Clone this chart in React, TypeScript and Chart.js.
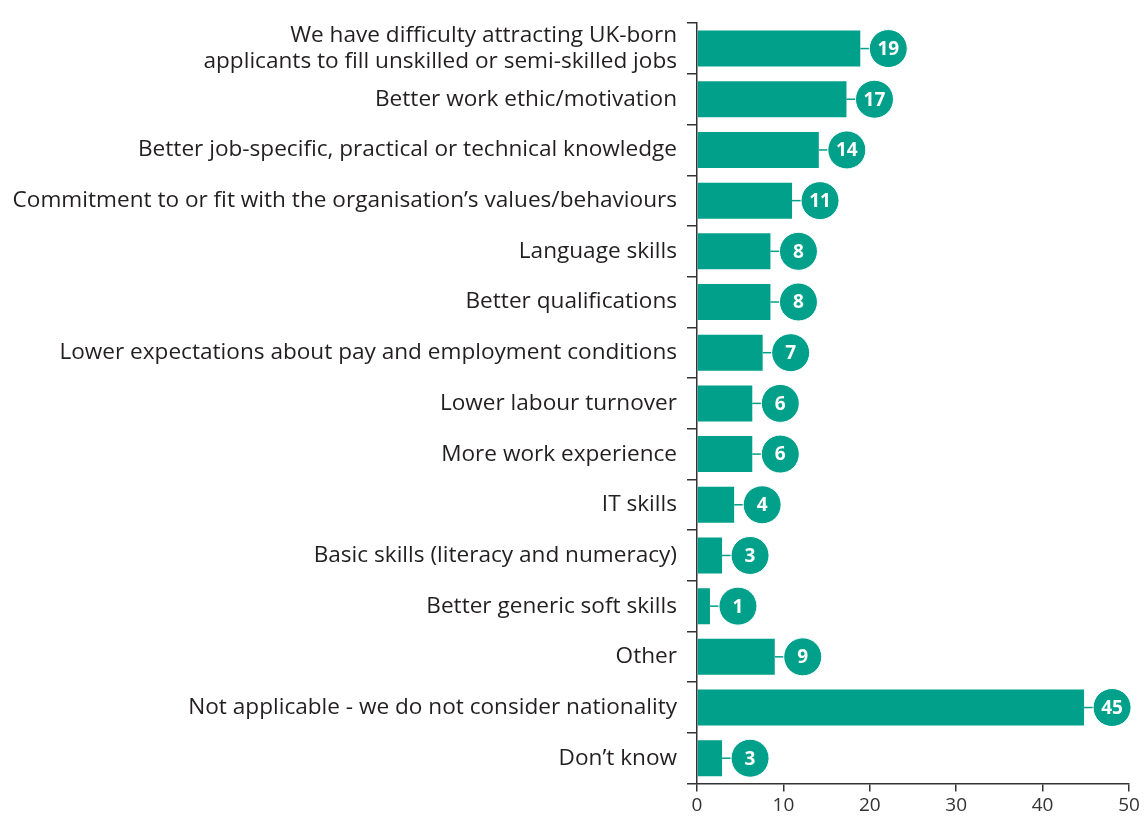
import React, { useEffect, useRef } from "react";
import { Chart, registerables } from "chart.js";

Chart.register(...registerables);

const categories: (string | string[])[] = [
  ["We have difficulty attracting UK-born", "applicants to fill unskilled or semi-skilled jobs"],
  "Better work ethic/motivation",
  "Better job-specific, practical or technical knowledge",
  "Commitment to or fit with the organisation\u2019s values/behaviours",
  "Language skills",
  "Better qualifications",
  "Lower expectations about pay and employment conditions",
  "Lower labour turnover",
  "More work experience",
  "IT skills",
  "Basic skills (literacy and numeracy)",
  "Better generic soft skills",
  "Other",
  "Not applicable - we do not consider nationality",
  "Don\u2019t know",
];

const values: number[] = [19, 17, 14, 11, 8, 8, 7, 6, 6, 4, 3, 1, 9, 45, 3];
// Bar lengths as drawn (rounded display values shown in circles)
const barValues: number[] = [18.9, 17.3, 14.1, 11.0, 8.5, 8.5, 7.6, 6.4, 6.4, 4.3, 2.9, 1.5, 9.0, 44.8, 2.9];

const xTicks: number[] = [0, 10, 20, 30, 40, 50];

const TEAL = "#00a08a";
const FONT = "'Open Sans', 'Noto Sans', sans-serif";

const bubblePlugin = {
  id: "bubbles",
  afterDatasetsDraw(chart: any) {
    const ctx = chart.ctx;
    const meta = chart.getDatasetMeta(0);
    ctx.save();
    meta.data.forEach((bar: any, i: number) => {
      const x = bar.x;
      const y = bar.y;
      const r = 19;
      const cx = x + 28;
      ctx.strokeStyle = TEAL;
      ctx.lineWidth = 1.5;
      ctx.beginPath();
      ctx.moveTo(x, y);
      ctx.lineTo(cx - r, y);
      ctx.stroke();
      ctx.beginPath();
      ctx.arc(cx, y, r, 0, Math.PI * 2);
      ctx.fillStyle = TEAL;
      ctx.fill();
      ctx.strokeStyle = "#ffffff";
      ctx.lineWidth = 1;
      ctx.stroke();
      ctx.fillStyle = "#ffffff";
      ctx.font = `bold 19px ${FONT}`;
      ctx.textAlign = "center";
      ctx.textBaseline = "middle";
      ctx.fillText(String(values[i]), cx, y + 1);
    });
    ctx.restore();
  },
};

export default function App() {
  const ref = useRef<HTMLCanvasElement>(null);
  useEffect(() => {
    if (!ref.current) return;
    const chart = new Chart(ref.current, {
      type: "bar",
      data: {
        labels: categories,
        datasets: [
          {
            data: barValues,
            backgroundColor: TEAL,
            borderWidth: 0,
            barPercentage: 0.71,
            categoryPercentage: 1,
          },
        ],
      },
      options: {
        indexAxis: "y",
        animation: false,
        responsive: false,
        maintainAspectRatio: false,
        layout: { padding: { top: 12, right: 17, left: 0, bottom: 0 } },
        plugins: { legend: { display: false }, tooltip: { enabled: false } },
        scales: {
          x: {
            min: 0,
            max: 50,
            afterBuildTicks: (scale: any) => {
              scale.ticks = xTicks.map((v) => ({ value: v }));
            },
            grid: {
              drawOnChartArea: false,
              drawTicks: true,
              tickLength: 8,
              color: "#333",
              lineWidth: 1.5,
            },
            border: { display: true, color: "#333", width: 1.5 },
            ticks: {
              color: "#333",
              font: { family: FONT, size: 19 },
              padding: 3,
              maxRotation: 0,
            },
            afterFit: (scale: any) => {
              scale.height = 34;
            },
          },
          y: {
            grid: {
              drawOnChartArea: false,
              drawTicks: true,
              tickLength: 10,
              color: "#333",
              lineWidth: 1.5,
              offset: true,
            },
            border: { display: true, color: "#333", width: 1.5 },
            ticks: {
              color: "#231f20",
              font: { family: FONT, size: 22.6, lineHeight: 1.17 },
              padding: 10,
              autoSkip: false,
            },
            afterFit: (scale: any) => {
              scale.width = 697;
            },
          },
        },
      },
      plugins: [bubblePlugin],
    });
    return () => chart.destroy();
  }, []);
  return (
    <div style={{ position: "fixed", left: 0, top: 0, width: 1146, height: 820, background: "#fff" }}>
      <canvas ref={ref} width={1146} height={820} style={{ width: 1146, height: 820 }} />
    </div>
  );
}
